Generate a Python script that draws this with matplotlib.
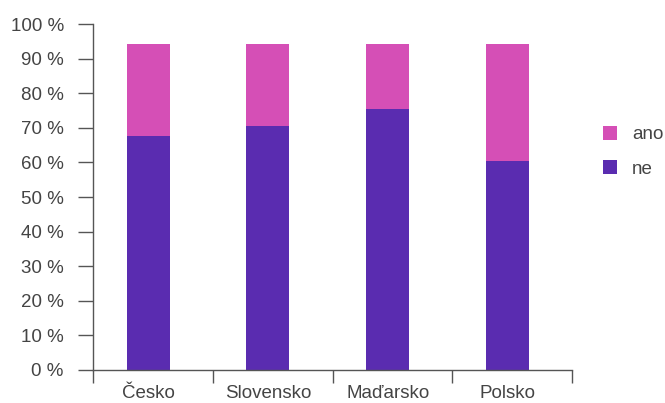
import matplotlib.pyplot as plt
import numpy as np
from matplotlib.ticker import FixedLocator, FuncFormatter

plt.rcParams['font.family'] = ['Liberation Sans', 'DejaVu Sans']

# data
countries = ['Česko', 'Slovensko', 'Maďarsko', 'Polsko']
ne = [67.5, 70.5, 75.4, 60.5]
ano = [26.8, 23.8, 18.9, 33.8]

purple = '#5a2cb0'
pink = '#d54fb6'
grey = '#555555'
fs = 13.5

fig = plt.figure(figsize=(6.65, 4.03), dpi=100)
ax = fig.add_axes([0.1398, 0.0819, 0.7205, 0.8585])

x = np.arange(len(countries))
b_ne = ax.bar(x, ne, width=0.36, color=purple, label='ne')
b_ano = ax.bar(x, ano, width=0.36, bottom=ne, color=pink, label='ano')

# bars sit a little left of the middle of each category cell
ax.set_xlim(-0.46, len(countries) - 0.46)
ax.set_ylim(0, 100)

ax.set_yticks(np.arange(0, 101, 10))
ax.yaxis.set_major_formatter(FuncFormatter(lambda v, p: f'{v:.0f} %'))
ax.tick_params(axis='y', length=11, width=1, color=grey, labelsize=fs,
               labelcolor='#444444', pad=10)

ax.set_xticks(x)
ax.set_xticklabels(countries)
ax.xaxis.set_minor_locator(FixedLocator(np.arange(-0.46, len(countries), 1)))
ax.tick_params(axis='x', which='major', length=0, labelsize=fs,
               labelcolor='#444444', pad=11)
ax.tick_params(axis='x', which='minor', length=9.5, width=1, color=grey)

for s in ['top', 'right']:
    ax.spines[s].set_visible(False)
for s in ['left', 'bottom']:
    ax.spines[s].set_color(grey)
    ax.spines[s].set_linewidth(1)

fig.legend(handles=[b_ano, b_ne], labels=['ano', 'ne'], loc='center left',
           bbox_to_anchor=(0.8815, 0.623), frameon=False, fontsize=fs,
           handlelength=0.75, handleheight=0.75, labelspacing=0.9,
           handletextpad=0.8, labelcolor='#444444')

fig.savefig('out.png', dpi=100)
